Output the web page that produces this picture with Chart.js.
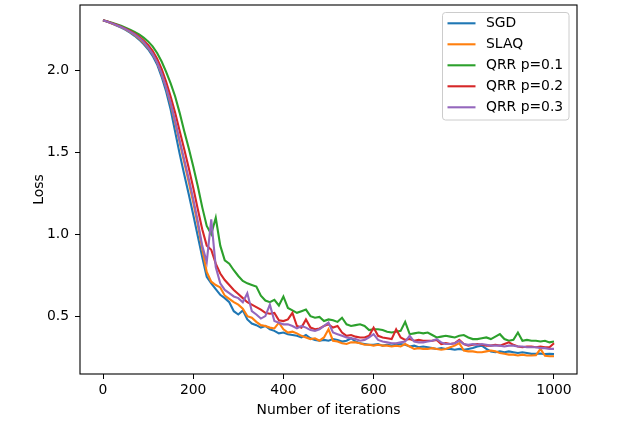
<!DOCTYPE html>
<html>
<head>
<meta charset="utf-8">
<script src="https://cdn.jsdelivr.net/npm/chart.js@4.4.1/dist/chart.umd.min.js"></script>
<style>
  html, body { margin: 0; padding: 0; background: #ffffff; }
  #wrap { width: 640px; height: 427px; }
</style>
</head>
<body>
<div id="wrap"><canvas id="c" width="640" height="427"></canvas></div>
<script>
const iterations = [0,10,20,30,40,50,60,70,80,90,100,110,120,130,140,150,160,170,180,190,200,210,220,230,240,250,260,270,280,290,300,310,320,330,340,350,360,370,380,390,400,410,420,430,440,450,460,470,480,490,500,510,520,530,540,550,560,570,580,590,600,610,620,630,640,650,660,670,680,690,700,710,720,730,740,750,760,770,780,790,800,810,820,830,840,850,860,870,880,890,900,910,920,930,940,950,960,970,980,990,1000];

const seriesLabels = ["SGD", "SLAQ", "QRR p=0.1", "QRR p=0.2", "QRR p=0.3"];
const seriesColors = ["#1f77b4", "#ff7f0e", "#2ca02c", "#d62728", "#9467bd"];

const sgd = [2.305, 2.296, 2.285, 2.273, 2.261, 2.247, 2.23, 2.21, 2.187, 2.16,
 2.128, 2.088, 2.035, 1.96, 1.87, 1.76, 1.625, 1.49, 1.365, 1.245,
 1.12, 0.99, 0.86, 0.74, 0.70, 0.665, 0.63, 0.61, 0.585, 0.53,
 0.51, 0.535, 0.48, 0.455, 0.445, 0.43, 0.44, 0.42, 0.41, 0.395,
 0.40, 0.39, 0.385, 0.38, 0.37, 0.385, 0.365, 0.355, 0.35, 0.355,
 0.35, 0.36, 0.355, 0.345, 0.35, 0.365, 0.345, 0.335, 0.33, 0.325,
 0.325, 0.33, 0.32, 0.325, 0.32, 0.325, 0.33, 0.325, 0.315, 0.32,
 0.31, 0.315, 0.31, 0.305, 0.30, 0.305, 0.30, 0.30, 0.295, 0.30,
 0.295, 0.30, 0.305, 0.315, 0.32, 0.30, 0.285, 0.28, 0.285, 0.28,
 0.285, 0.28, 0.275, 0.28, 0.275, 0.27, 0.27, 0.272, 0.268, 0.27,
 0.268];

const slaq = [2.305, 2.296, 2.285, 2.274, 2.263, 2.25, 2.234, 2.216, 2.194, 2.168,
 2.137, 2.10, 2.048, 1.978, 1.895, 1.795, 1.68, 1.56, 1.44, 1.32,
 1.195, 1.06, 0.91, 0.77, 0.71, 0.69, 0.675, 0.625, 0.605, 0.585,
 0.57, 0.545, 0.50, 0.49, 0.465, 0.445, 0.44, 0.43, 0.425, 0.46,
 0.42, 0.40, 0.405, 0.395, 0.38, 0.37, 0.36, 0.365, 0.35, 0.37,
 0.42, 0.35, 0.345, 0.335, 0.33, 0.34, 0.34, 0.335, 0.325, 0.325,
 0.32, 0.325, 0.32, 0.32, 0.315, 0.32, 0.315, 0.33, 0.315, 0.30,
 0.305, 0.30, 0.30, 0.305, 0.30, 0.295, 0.30, 0.31, 0.32, 0.335,
 0.29, 0.285, 0.285, 0.28, 0.28, 0.285, 0.29, 0.285, 0.275, 0.27,
 0.265, 0.265, 0.26, 0.265, 0.26, 0.26, 0.262, 0.30, 0.258, 0.255,
 0.255];

const qrr01 = [2.305, 2.298, 2.29, 2.281, 2.271, 2.26, 2.248, 2.234, 2.218, 2.199,
 2.176, 2.146, 2.105, 2.053, 1.99, 1.92, 1.84, 1.74, 1.63, 1.525,
 1.415, 1.295, 1.165, 1.05, 1.0, 1.10, 0.93, 0.84, 0.82, 0.78,
 0.745, 0.715, 0.70, 0.69, 0.68, 0.625, 0.595, 0.585, 0.60, 0.565,
 0.62, 0.55, 0.535, 0.52, 0.53, 0.54, 0.50, 0.49, 0.495, 0.47,
 0.48, 0.475, 0.465, 0.49, 0.45, 0.44, 0.445, 0.45, 0.44, 0.415,
 0.42, 0.42, 0.415, 0.405, 0.40, 0.405, 0.41, 0.465, 0.39, 0.395,
 0.40, 0.395, 0.40, 0.385, 0.37, 0.375, 0.38, 0.375, 0.37, 0.38,
 0.385, 0.37, 0.36, 0.36, 0.365, 0.37, 0.36, 0.375, 0.39, 0.36,
 0.35, 0.355, 0.40, 0.35, 0.355, 0.35, 0.35, 0.345, 0.35, 0.34,
 0.345];

const qrr02 = [2.305, 2.297, 2.287, 2.277, 2.266, 2.254, 2.24, 2.224, 2.205, 2.182,
 2.154, 2.118, 2.07, 2.008, 1.93, 1.84, 1.74, 1.63, 1.52, 1.405,
 1.285, 1.155, 1.03, 0.93, 0.905, 0.82, 0.76, 0.72, 0.69, 0.66,
 0.635, 0.61, 0.585, 0.57, 0.555, 0.54, 0.52, 0.515, 0.52, 0.475,
 0.47, 0.48, 0.52, 0.44, 0.43, 0.48, 0.43, 0.42, 0.425, 0.44,
 0.45, 0.43, 0.44, 0.40, 0.38, 0.385, 0.375, 0.37, 0.37, 0.38,
 0.43, 0.38, 0.37, 0.365, 0.36, 0.42, 0.37, 0.355, 0.36, 0.35,
 0.355, 0.35, 0.35, 0.35, 0.355, 0.33, 0.335, 0.33, 0.335, 0.355,
 0.33, 0.32, 0.325, 0.33, 0.325, 0.32, 0.32, 0.325, 0.32, 0.33,
 0.34, 0.325, 0.315, 0.31, 0.315, 0.315, 0.31, 0.315, 0.31, 0.31,
 0.335];

const qrr03 = [2.305, 2.296, 2.286, 2.275, 2.264, 2.251, 2.236, 2.219, 2.198, 2.172,
 2.14, 2.10, 2.048, 1.98, 1.895, 1.80, 1.69, 1.57, 1.455, 1.34,
 1.215, 1.08, 0.93, 0.83, 1.09, 0.80, 0.70, 0.66, 0.64, 0.62,
 0.61, 0.585, 0.64, 0.53, 0.51, 0.485, 0.50, 0.57, 0.47, 0.46,
 0.45, 0.45, 0.44, 0.425, 0.44, 0.43, 0.415, 0.41, 0.42, 0.44,
 0.46, 0.40, 0.39, 0.38, 0.37, 0.365, 0.36, 0.35, 0.355, 0.37,
 0.39, 0.355, 0.345, 0.34, 0.335, 0.335, 0.34, 0.345, 0.38, 0.345,
 0.34, 0.34, 0.345, 0.35, 0.36, 0.34, 0.33, 0.33, 0.335, 0.35,
 0.33, 0.325, 0.33, 0.325, 0.33, 0.325, 0.32, 0.32, 0.32, 0.315,
 0.32, 0.32, 0.315, 0.315, 0.31, 0.31, 0.31, 0.305, 0.305, 0.30,
 0.30];

const xTicks = [0, 200, 400, 600, 800, 1000];
const yTicks = [0.5, 1.0, 1.5, 2.0];

const allSeries = [sgd, slaq, qrr01, qrr02, qrr03];
const FONT = "'DejaVu Sans', sans-serif";
const FS = 13.9;

const datasets = allSeries.map((vals, i) => ({
  label: seriesLabels[i],
  data: iterations.map((it, k) => ({ x: it, y: vals[k] })),
  borderColor: seriesColors[i],
  backgroundColor: seriesColors[i],
  borderWidth: 2.1,
  pointRadius: 0,
  tension: 0,
  fill: false,
  order: allSeries.length - i
}));

const framePlugin = {
  id: 'frame',
  afterDatasetsDraw(chart) {
    const { ctx, chartArea: a } = chart;
    ctx.save();
    ctx.strokeStyle = '#000000';
    ctx.lineWidth = 1.1;
    ctx.strokeRect(a.left, a.top, a.right - a.left, a.bottom - a.top);
    ctx.restore();
  }
};

const legendPlugin = {
  id: 'mplLegend',
  afterDraw(chart) {
    const { ctx } = chart;
    const bx = 442.5, by = 12.5, bw = 126.5, bh = 107.5, r = 3;
    ctx.save();
    ctx.beginPath();
    ctx.moveTo(bx + r, by);
    ctx.lineTo(bx + bw - r, by);
    ctx.quadraticCurveTo(bx + bw, by, bx + bw, by + r);
    ctx.lineTo(bx + bw, by + bh - r);
    ctx.quadraticCurveTo(bx + bw, by + bh, bx + bw - r, by + bh);
    ctx.lineTo(bx + r, by + bh);
    ctx.quadraticCurveTo(bx, by + bh, bx, by + bh - r);
    ctx.lineTo(bx, by + r);
    ctx.quadraticCurveTo(bx, by, bx + r, by);
    ctx.closePath();
    ctx.fillStyle = 'rgba(255,255,255,0.8)';
    ctx.fill();
    ctx.strokeStyle = '#cccccc';
    ctx.lineWidth = 1;
    ctx.stroke();
    ctx.font = FS + 'px ' + FONT;
    ctx.textBaseline = 'middle';
    ctx.textAlign = 'left';
    chart.data.datasets.forEach((ds, i) => {
      const y = 23.3 + i * 21;
      ctx.strokeStyle = ds.borderColor;
      ctx.lineWidth = 2.1;
      ctx.beginPath();
      ctx.moveTo(447.5, y);
      ctx.lineTo(475.5, y);
      ctx.stroke();
      ctx.fillStyle = '#000000';
      ctx.fillText(ds.label, 486, y + 0.5);
    });
    ctx.restore();
  }
};

new Chart(document.getElementById('c'), {
  type: 'line',
  data: { datasets },
  plugins: [framePlugin, legendPlugin],
  options: {
    responsive: false,
    animation: false,
    events: [],
    layout: { padding: { top: 5, right: 63, left: 0, bottom: 0 } },
    plugins: { legend: { display: false }, tooltip: { enabled: false } },
    scales: {
      x: {
        type: 'linear',
        min: -51,
        max: 1051,
        afterFit(scale) { scale.height = 53; scale.paddingLeft = 0; scale.paddingRight = 0; },
        afterBuildTicks(scale) { scale.ticks = xTicks.map(v => ({ value: v })); },
        border: { display: false },
        grid: { display: true, drawOnChartArea: false, drawTicks: true, tickLength: 5, tickColor: '#000000', tickWidth: 1 },
        ticks: { color: '#000000', font: { family: FONT, size: FS }, padding: 3, maxRotation: 0, autoSkip: false,
                 callback: (v) => String(v) },
        title: { display: true, text: 'Number of iterations', color: '#000000', font: { family: FONT, size: FS }, padding: { top: 0, bottom: 8 } }
      },
      y: {
        type: 'linear',
        min: 0.147,
        max: 2.398,
        afterFit(scale) { scale.width = 80; scale.paddingTop = 0; scale.paddingBottom = 0; },
        afterBuildTicks(scale) { scale.ticks = yTicks.map(v => ({ value: v })); },
        border: { display: false },
        grid: { display: true, drawOnChartArea: false, drawTicks: true, tickLength: 5, tickColor: '#000000', tickWidth: 1 },
        ticks: { color: '#000000', font: { family: FONT, size: FS }, padding: 6, autoSkip: false,
                 callback: (v) => Number(v).toFixed(1) },
        title: { display: true, text: 'Loss', color: '#000000', font: { family: FONT, size: FS }, padding: { top: 31, bottom: 0 } }
      }
    }
  }
});
</script>
</body>
</html>
